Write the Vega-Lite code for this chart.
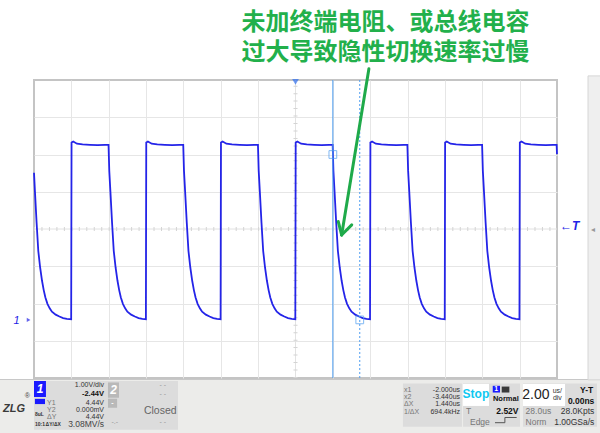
{
"$schema": "https://vega.github.io/schema/vega-lite/v6.json",
"width": 523, "height": 298,
"autosize": {"type": "none"},
"padding": {"left": 34, "top": 80, "right": 43, "bottom": 55},
"background": "#ffffff",
"config": {
 "view": {"stroke": "#c4c4c4", "strokeWidth": 2},
 "axis": {"domain": false, "ticks": false, "labels": false, "grid": true, "gridColor": "#e6e6e6", "gridWidth": 1},
 "text": {"font": "Liberation Sans", "baseline": "middle"}
},
"datasets": {
 "wave": [
  {"t":-14.0,"v":3.95},{"t":-13.95,"v":3.45},{"t":-13.86,"v":2.6},{"t":-13.77,"v":1.85},{"t":-13.67,"v":1.4},{"t":-13.57,"v":1.05},{"t":-13.48,"v":0.8},{"t":-13.39,"v":0.6},{"t":-13.28,"v":0.43},{"t":-13.16,"v":0.31},{"t":-13.04,"v":0.22},{"t":-12.84,"v":0.14},{"t":-12.64,"v":0.09},{"t":-12.44,"v":0.05},{"t":-12.24,"v":0.03},{"t":-12.01,"v":0.02},
  {"t":-11.99,"v":4.76},{"t":-11.9,"v":4.79},{"t":-11.7,"v":4.73},{"t":-11.4,"v":4.71},{"t":-11.0,"v":4.7},{"t":-10.6,"v":4.69},{"t":-10.2,"v":4.7},{"t":-10.01,"v":4.7},
  {"t":-9.97,"v":4.0},{"t":-9.91,"v":3.45},{"t":-9.82,"v":2.6},{"t":-9.73,"v":1.85},{"t":-9.63,"v":1.4},{"t":-9.53,"v":1.05},{"t":-9.44,"v":0.8},{"t":-9.35,"v":0.6},{"t":-9.24,"v":0.43},{"t":-9.12,"v":0.31},{"t":-9.0,"v":0.22},{"t":-8.8,"v":0.14},{"t":-8.6,"v":0.09},{"t":-8.4,"v":0.05},{"t":-8.2,"v":0.03},{"t":-8.01,"v":0.02},
  {"t":-7.99,"v":4.76},{"t":-7.9,"v":4.79},{"t":-7.7,"v":4.73},{"t":-7.4,"v":4.71},{"t":-7.0,"v":4.7},{"t":-6.6,"v":4.69},{"t":-6.2,"v":4.7},{"t":-6.01,"v":4.7},
  {"t":-5.97,"v":4.0},{"t":-5.91,"v":3.45},{"t":-5.82,"v":2.6},{"t":-5.73,"v":1.85},{"t":-5.63,"v":1.4},{"t":-5.53,"v":1.05},{"t":-5.44,"v":0.8},{"t":-5.35,"v":0.6},{"t":-5.24,"v":0.43},{"t":-5.12,"v":0.31},{"t":-5.0,"v":0.22},{"t":-4.8,"v":0.14},{"t":-4.6,"v":0.09},{"t":-4.4,"v":0.05},{"t":-4.2,"v":0.03},{"t":-4.01,"v":0.02},
  {"t":-3.99,"v":4.76},{"t":-3.9,"v":4.79},{"t":-3.7,"v":4.73},{"t":-3.4,"v":4.71},{"t":-3.0,"v":4.7},{"t":-2.6,"v":4.69},{"t":-2.2,"v":4.7},{"t":-2.01,"v":4.7},
  {"t":-1.97,"v":4.0},{"t":-1.91,"v":3.45},{"t":-1.82,"v":2.6},{"t":-1.73,"v":1.85},{"t":-1.63,"v":1.4},{"t":-1.53,"v":1.05},{"t":-1.44,"v":0.8},{"t":-1.35,"v":0.6},{"t":-1.24,"v":0.43},{"t":-1.12,"v":0.31},{"t":-1.0,"v":0.22},{"t":-0.8,"v":0.14},{"t":-0.6,"v":0.09},{"t":-0.4,"v":0.05},{"t":-0.2,"v":0.03},{"t":-0.01,"v":0.02},
  {"t":0.01,"v":4.76},{"t":0.1,"v":4.79},{"t":0.3,"v":4.73},{"t":0.6,"v":4.71},{"t":1.0,"v":4.7},{"t":1.4,"v":4.69},{"t":1.8,"v":4.7},{"t":1.99,"v":4.7},
  {"t":2.03,"v":4.0},{"t":2.09,"v":3.45},{"t":2.18,"v":2.6},{"t":2.27,"v":1.85},{"t":2.37,"v":1.4},{"t":2.47,"v":1.05},{"t":2.56,"v":0.8},{"t":2.65,"v":0.6},{"t":2.76,"v":0.43},{"t":2.88,"v":0.31},{"t":3.0,"v":0.22},{"t":3.2,"v":0.14},{"t":3.4,"v":0.09},{"t":3.6,"v":0.05},{"t":3.8,"v":0.03},{"t":3.99,"v":0.02},
  {"t":4.01,"v":4.76},{"t":4.1,"v":4.79},{"t":4.3,"v":4.73},{"t":4.6,"v":4.71},{"t":5.0,"v":4.7},{"t":5.4,"v":4.69},{"t":5.8,"v":4.7},{"t":5.99,"v":4.7},
  {"t":6.03,"v":4.0},{"t":6.09,"v":3.45},{"t":6.18,"v":2.6},{"t":6.27,"v":1.85},{"t":6.37,"v":1.4},{"t":6.47,"v":1.05},{"t":6.56,"v":0.8},{"t":6.65,"v":0.6},{"t":6.76,"v":0.43},{"t":6.88,"v":0.31},{"t":7.0,"v":0.22},{"t":7.2,"v":0.14},{"t":7.4,"v":0.09},{"t":7.6,"v":0.05},{"t":7.8,"v":0.03},{"t":7.99,"v":0.02},
  {"t":8.01,"v":4.76},{"t":8.1,"v":4.79},{"t":8.3,"v":4.73},{"t":8.6,"v":4.71},{"t":9.0,"v":4.7},{"t":9.4,"v":4.69},{"t":9.8,"v":4.7},{"t":9.99,"v":4.7},
  {"t":10.03,"v":4.0},{"t":10.09,"v":3.45},{"t":10.18,"v":2.6},{"t":10.27,"v":1.85},{"t":10.37,"v":1.4},{"t":10.47,"v":1.05},{"t":10.56,"v":0.8},{"t":10.65,"v":0.6},{"t":10.76,"v":0.43},{"t":10.88,"v":0.31},{"t":11.0,"v":0.22},{"t":11.2,"v":0.14},{"t":11.4,"v":0.09},{"t":11.6,"v":0.05},{"t":11.8,"v":0.03},{"t":11.99,"v":0.02},
  {"t":12.01,"v":4.76},{"t":12.1,"v":4.79},{"t":12.3,"v":4.73},{"t":12.6,"v":4.71},{"t":13.0,"v":4.7},{"t":13.4,"v":4.69},{"t":13.8,"v":4.7},{"t":13.98,"v":4.7},{"t":14.0,"v":4.45}
 ],
 "center": [{"t":-14,"t2":14,"v":2.44,"v2":2.44},{"t":0,"t2":0,"v":-1.56,"v2":6.44}],
 "cur1": [{"t":2.0,"t2":2.0,"v":-1.56,"v2":6.44}],
 "cur2": [{"t":3.44,"t2":3.44,"v":-1.56,"v2":6.44}],
 "curBox": [{"t":2.0,"v":4.44},{"t":3.44,"v":0.0}],
 "trig": [{"t":0,"v":6.39}],
 "gnd": [{"t":-14.29,"v":0}],
 "arrow": [{"t":3.93,"v":6.74,"t2":2.47,"v2":2.28},{"t":2.47,"v":2.28,"t2":2.29,"v2":2.64},{"t":2.47,"v":2.28,"t2":3.01,"v2":2.55}],
 "title": [{"t":4.82,"v":7.96,"label":"未加终端电阻、或总线电容\n过大导致隐性切换速率过慢"}],
 "panel": [{"t":-16.5,"t2":16.8,"v":-1.6,"v2":-3.3}],
 "strip": [{"t":15.66,"t2":16.6,"v":6.55,"v2":-1.61}],
 "cells": [{"t":-14.0,"t2":-6.29,"v":-1.64,"v2":-2.95},{"t":5.75,"t2":8.91,"v":-1.71,"v2":-2.87},{"t":8.97,"t2":12.02,"v":-1.71,"v2":-2.87},{"t":12.18,"t2":16.14,"v":-1.71,"v2":-2.87}],
 "white": [{"t":8.97,"t2":10.36,"v":-1.72,"v2":-2.31},{"t":12.18,"t2":14.43,"v":-1.72,"v2":-2.31}],
 "blue": [{"t":-14.0,"t2":-13.36,"v":-1.64,"v2":-2.07},{"t":-13.95,"t2":-13.41,"v":-2.12,"v2":-2.26},{"t":10.56,"t2":10.95,"v":-1.77,"v2":-1.95}],
 "grayBox": [{"t":-10.04,"t2":-9.45,"v":-1.68,"v2":-2.09},{"t":-10.04,"t2":-9.55,"v":-2.12,"v2":-2.36}],
 "dark": [{"t":11.04,"t2":11.45,"v":-1.79,"v2":-1.95}],
 "edge": [{"t":10.68,"v":-2.76,"t2":11.21,"v2":-2.76},{"t":11.21,"v":-2.76,"t2":11.21,"v2":-2.62},{"t":11.21,"v":-2.62,"t2":11.84,"v2":-2.62}],
 "tRowR": [
  {"t":-10.25,"v":-1.745,"label":"1.00V/div"},
  {"t":-10.25,"v":-2.22,"label":"4.44V"},
  {"t":-10.25,"v":-2.42,"label":"0.000mV"},
  {"t":-10.25,"v":-2.61,"label":"4.44V"},
  {"t":8.81,"v":-1.88,"label":"-2.000us"},
  {"t":8.81,"v":-2.07,"label":"-3.440us"},
  {"t":8.81,"v":-2.27,"label":"1.440us"},
  {"t":8.81,"v":-2.47,"label":"694.4kHz"}
 ],
 "tRight": [
  {"t":16.0,"v":-2.44,"label":"28.0Kpts"},
  {"t":16.0,"v":-2.73,"label":"1.00GSa/s"}
 ],
 "tBoldRowR": [{"t":-10.25,"v":-1.99,"label":"-2.44V"}],
 "tBoldRight": [
  {"t":11.94,"v":-2.44,"label":"2.52V"},
  {"t":15.94,"v":-1.88,"label":"Y-T"},
  {"t":16.0,"v":-2.19,"label":"0.00ns"}
 ],
 "tRowL": [
  {"t":-13.3,"v":-2.22,"label":"Y1"},{"t":-13.3,"v":-2.42,"label":"Y2"},{"t":-13.3,"v":-2.61,"label":"ΔY"},
  {"t":5.81,"v":-1.88,"label":"x1"},{"t":5.81,"v":-2.07,"label":"x2"},{"t":5.81,"v":-2.27,"label":"ΔX"},{"t":5.81,"v":-2.47,"label":"1/ΔX"}
 ],
 "tLeft": [
  {"t":9.13,"v":-2.44,"label":"T"},{"t":9.34,"v":-2.73,"label":"Edge"},{"t":12.32,"v":-2.44,"label":"28.0us"},{"t":12.32,"v":-2.73,"label":"Norm"}
 ],
 "tNormal": [{"t":11.26,"v":-2.13,"label":"Normal"}],
 "tStop": [{"t":9.66,"v":-1.99,"label":"Stop"}],
 "tBig": [{"t":12.87,"v":-2.01,"label":"2.00"}],
 "tUnit": [{"t":14.02,"v":-1.9,"label":"us/"},{"t":14.02,"v":-2.1,"label":"div"}],
 "tClosed": [{"t":-7.24,"v":-2.44,"label":"Closed"}],
 "tDash": [{"t":-6.93,"v":-1.745,"label":"- -"},{"t":-6.93,"v":-1.99,"label":"- -"},{"t":-6.93,"v":-2.75,"label":"- -"},{"t":-9.5,"v":-2.75,"label":"-.-"}],
 "tMv": [{"t":-10.25,"v":-2.8,"label":"3.08MV/s"}],
 "tTiny": [{"t":-13.95,"v":-2.52,"label":"8uL"},{"t":-13.95,"v":-2.8,"label":"10:1"},{"t":-13.38,"v":-2.8,"label":"ΔY/ΔX"}],
 "tWhite": [{"t":-13.68,"v":-1.85,"label":"1"},{"t":-9.74,"v":-1.88,"label":"2"}],
 "tWhiteSm": [{"t":-9.8,"v":-2.24,"label":"-"},{"t":10.75,"v":-1.86,"label":"1"}],
 "logo": [{"t":-15.07,"v":-2.38,"label":"ZLG"}],
 "reg": [{"t":-14.36,"v":-2.03,"label":"®"}],
 "ch1": [{"t":-14.93,"v":-0.03,"label":"1"}],
 "trigT": [{"t":14.16,"v":2.52,"label":"←T"}],
 "stripArrow": [{"t":15.94,"v":2.42,"label":"◂"}]
},
"encoding": {
 "x": {"field": "t", "type": "quantitative", "scale": {"domain": [-14, 14], "nice": false, "zero": false}, "axis": {"title": null, "values": [-12,-10,-8,-6,-4,-2,2,4,6,8,10,12]}},
 "y": {"field": "v", "type": "quantitative", "scale": {"domain": [-1.56, 6.44], "nice": false, "zero": false}, "axis": {"title": null, "values": [-0.56,0.44,1.44,3.44,4.44,5.44]}}
},
"layer": [
 {"data": {"name": "panel"}, "mark": {"type": "rect", "fill": "#ececea", "stroke": "#c8c8c8", "strokeWidth": 1}, "encoding": {"x2": {"field": "t2"}, "y2": {"field": "v2"}}},
 {"data": {"name": "strip"}, "mark": {"type": "rect", "fill": "#efefef", "stroke": "#d6d6d6", "strokeWidth": 1}, "encoding": {"x2": {"field": "t2"}, "y2": {"field": "v2"}}},
 {"data": {"name": "cells"}, "mark": {"type": "rect", "fill": "#dcdcdc"}, "encoding": {"x2": {"field": "t2"}, "y2": {"field": "v2"}}},
 {"data": {"name": "white"}, "mark": {"type": "rect", "fill": "#ffffff"}, "encoding": {"x2": {"field": "t2"}, "y2": {"field": "v2"}}},
 {"data": {"name": "blue"}, "mark": {"type": "rect", "fill": "#1a1aff"}, "encoding": {"x2": {"field": "t2"}, "y2": {"field": "v2"}}},
 {"data": {"name": "grayBox"}, "mark": {"type": "rect", "fill": "#b9b9b9"}, "encoding": {"x2": {"field": "t2"}, "y2": {"field": "v2"}}},
 {"data": {"name": "dark"}, "mark": {"type": "rect", "fill": "#3a3a3a"}, "encoding": {"x2": {"field": "t2"}, "y2": {"field": "v2"}}},
 {"data": {"name": "edge"}, "mark": {"type": "rule", "color": "#555555", "strokeWidth": 1}, "encoding": {"x2": {"field": "t2"}, "y2": {"field": "v2"}}},
 {"data": {"name": "center"}, "mark": {"type": "rule", "color": "#e2e2e2", "strokeWidth": 1}, "encoding": {"x2": {"field": "t2"}, "y2": {"field": "v2"}}},
 {"data": {"name": "center"}, "mark": {"type": "rule", "color": "#d4d4d4", "strokeWidth": 4, "strokeDash": [1, 6.47]}, "encoding": {"x2": {"field": "t2"}, "y2": {"field": "v2"}}},
 {"data": {"name": "wave"}, "mark": {"type": "line", "color": "#2424e8", "strokeWidth": 1.8}},
 {"data": {"name": "cur1"}, "mark": {"type": "rule", "color": "#4c9cf0", "strokeWidth": 1}, "encoding": {"x2": {"field": "t2"}, "y2": {"field": "v2"}}},
 {"data": {"name": "cur2"}, "mark": {"type": "rule", "color": "#4c9cf0", "strokeWidth": 1, "strokeDash": [2, 2]}, "encoding": {"x2": {"field": "t2"}, "y2": {"field": "v2"}}},
 {"data": {"name": "curBox"}, "mark": {"type": "point", "shape": "square", "filled": false, "size": 60, "stroke": "#4c9cf0", "strokeWidth": 1}},
 {"data": {"name": "trig"}, "mark": {"type": "point", "shape": "triangle-down", "filled": true, "size": 45, "color": "#2f6ff0"}},
 {"data": {"name": "gnd"}, "mark": {"type": "point", "shape": "triangle-right", "filled": true, "size": 18, "color": "#2222e6"}},
 {"data": {"name": "arrow"}, "mark": {"type": "rule", "color": "#1faa4a", "strokeWidth": 3, "strokeCap": "round"}, "encoding": {"x2": {"field": "t2"}, "y2": {"field": "v2"}}},
 {"data": {"name": "title"}, "mark": {"type": "text", "font": "Noto Sans CJK SC", "fontSize": 24, "fontWeight": "bold", "color": "#22b04b", "align": "center", "lineBreak": "\n", "lineHeight": 30}, "encoding": {"text": {"field": "label"}}},
 {"data": {"name": "tRowR"}, "mark": {"type": "text", "fontSize": 7, "color": "#333333", "align": "right"}, "encoding": {"text": {"field": "label"}}},
 {"data": {"name": "tRight"}, "mark": {"type": "text", "fontSize": 8.5, "color": "#333333", "align": "right"}, "encoding": {"text": {"field": "label"}}},
 {"data": {"name": "tBoldRowR"}, "mark": {"type": "text", "fontSize": 7.5, "fontWeight": "bold", "color": "#111111", "align": "right"}, "encoding": {"text": {"field": "label"}}},
 {"data": {"name": "tBoldRight"}, "mark": {"type": "text", "fontSize": 8.5, "fontWeight": "bold", "color": "#111111", "align": "right"}, "encoding": {"text": {"field": "label"}}},
 {"data": {"name": "tRowL"}, "mark": {"type": "text", "fontSize": 7, "color": "#777777", "align": "left"}, "encoding": {"text": {"field": "label"}}},
 {"data": {"name": "tLeft"}, "mark": {"type": "text", "fontSize": 8.5, "color": "#777777", "align": "left"}, "encoding": {"text": {"field": "label"}}},
 {"data": {"name": "tNormal"}, "mark": {"type": "text", "fontSize": 7.5, "fontWeight": "bold", "color": "#111111", "align": "center"}, "encoding": {"text": {"field": "label"}}},
 {"data": {"name": "tStop"}, "mark": {"type": "text", "fontSize": 12, "fontWeight": "bold", "color": "#10c8f0", "align": "center"}, "encoding": {"text": {"field": "label"}}},
 {"data": {"name": "tBig"}, "mark": {"type": "text", "fontSize": 14, "color": "#222222", "align": "center"}, "encoding": {"text": {"field": "label"}}},
 {"data": {"name": "tUnit"}, "mark": {"type": "text", "fontSize": 7, "color": "#333333", "align": "center"}, "encoding": {"text": {"field": "label"}}},
 {"data": {"name": "tClosed"}, "mark": {"type": "text", "fontSize": 10.5, "color": "#666666", "align": "center"}, "encoding": {"text": {"field": "label"}}},
 {"data": {"name": "tDash"}, "mark": {"type": "text", "fontSize": 7, "color": "#999999", "align": "right"}, "encoding": {"text": {"field": "label"}}},
 {"data": {"name": "tMv"}, "mark": {"type": "text", "fontSize": 8.5, "color": "#444444", "align": "right"}, "encoding": {"text": {"field": "label"}}},
 {"data": {"name": "tTiny"}, "mark": {"type": "text", "fontSize": 5, "fontWeight": "bold", "color": "#333333", "align": "left"}, "encoding": {"text": {"field": "label"}}},
 {"data": {"name": "tWhite"}, "mark": {"type": "text", "fontSize": 12, "fontWeight": "bold", "fontStyle": "italic", "color": "#ffffff", "align": "center"}, "encoding": {"text": {"field": "label"}}},
 {"data": {"name": "tWhiteSm"}, "mark": {"type": "text", "fontSize": 7, "fontWeight": "bold", "color": "#ffffff", "align": "center"}, "encoding": {"text": {"field": "label"}}},
 {"data": {"name": "logo"}, "mark": {"type": "text", "fontSize": 11, "fontWeight": "bold", "fontStyle": "italic", "color": "#3a3a3a", "align": "center"}, "encoding": {"text": {"field": "label"}}},
 {"data": {"name": "reg"}, "mark": {"type": "text", "fontSize": 7, "color": "#444444", "align": "center"}, "encoding": {"text": {"field": "label"}}},
 {"data": {"name": "ch1"}, "mark": {"type": "text", "fontSize": 11, "fontStyle": "italic", "color": "#2222e6", "align": "center"}, "encoding": {"text": {"field": "label"}}},
 {"data": {"name": "trigT"}, "mark": {"type": "text", "fontSize": 12, "fontWeight": "bold", "fontStyle": "italic", "color": "#2222e6", "align": "left"}, "encoding": {"text": {"field": "label"}}},
 {"data": {"name": "stripArrow"}, "mark": {"type": "text", "fontSize": 8, "color": "#999999", "align": "center"}, "encoding": {"text": {"field": "label"}}}
]
}
